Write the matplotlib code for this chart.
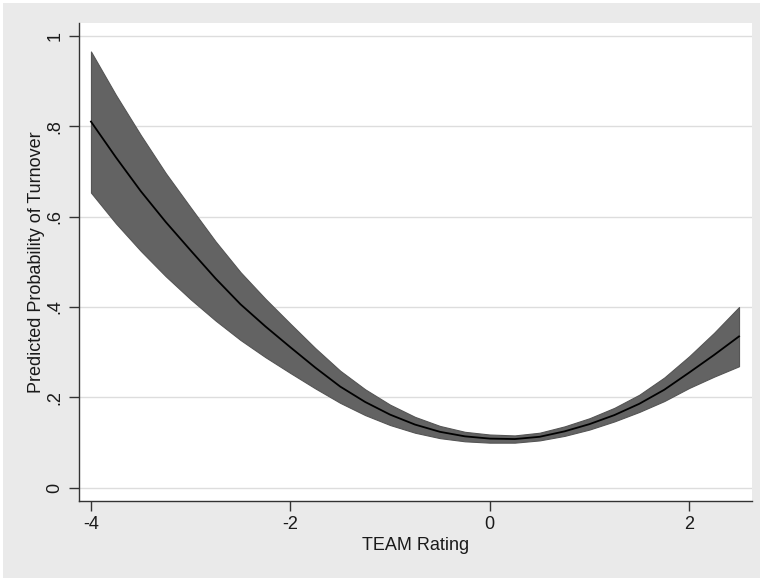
import numpy as np
import matplotlib.pyplot as plt
from matplotlib.patches import Rectangle

plt.rcParams['font.family'] = ['Liberation Sans', 'DejaVu Sans']

# TEAM rating grid, predicted probability and CI bounds
TEAM = np.array([-4, -3.75, -3.5, -3.25, -3, -2.75, -2.5, -2.25, -2, -1.75, -1.5, -1.25, -1,
                 -0.75, -0.5, -0.25, 0, 0.25, 0.5, 0.75, 1, 1.25, 1.5, 1.75, 2, 2.25, 2.5])
PRED = np.array([0.810, 0.731, 0.656, 0.588, 0.525, 0.463, 0.406, 0.357, 0.311, 0.266, 0.224,
                 0.190, 0.162, 0.140, 0.124, 0.114, 0.109, 0.108, 0.113, 0.125, 0.141, 0.161,
                 0.186, 0.217, 0.255, 0.294, 0.335])
UPPER = np.array([0.965, 0.869, 0.780, 0.696, 0.620, 0.545, 0.477, 0.418, 0.363, 0.309, 0.259,
                  0.218, 0.184, 0.157, 0.137, 0.124, 0.118, 0.116, 0.122, 0.136, 0.154, 0.177,
                  0.206, 0.244, 0.291, 0.343, 0.400])
LOWER = np.array([0.653, 0.585, 0.524, 0.468, 0.417, 0.370, 0.327, 0.289, 0.254, 0.220, 0.188,
                  0.161, 0.139, 0.122, 0.110, 0.103, 0.100, 0.100, 0.105, 0.115, 0.129, 0.147,
                  0.168, 0.192, 0.221, 0.246, 0.269])

YTICKS = [0, 0.2, 0.4, 0.6, 0.8, 1]
YTICKLABELS = ['0', '.2', '.4', '.6', '.8', '1']
XTICKS = [-4, -2, 0, 2]

fig = plt.figure(figsize=(7.6, 5.79), dpi=100, facecolor='white')
# Stata-style gray graph region, behind the axes
bg = Rectangle((3 / 760, 1 / 579), 757 / 760, 575 / 579,
               transform=fig.transFigure, facecolor='#eaeaea',
               edgecolor='none', zorder=-10)
fig.add_artist(bg)

ax = fig.add_axes([79 / 760, 78 / 579, 673 / 760, 478 / 579])
ax.set_zorder(1)
ax.set_facecolor('white')

ax.fill_between(TEAM, LOWER, UPPER, facecolor='#636363', edgecolor='#555555',
                linewidth=0.8, zorder=3)
ax.plot(TEAM, PRED, color='black', linewidth=1.3, zorder=4)

ax.set_xlim(-4.12, 2.63)
ax.set_ylim(-0.029, 1.028)

ax.set_yticks(YTICKS)
ax.set_yticklabels(YTICKLABELS, rotation=90, va='center')
ax.set_xticks(XTICKS)
ax.set_xticklabels([str(t) for t in XTICKS])

ax.grid(axis='y', color='#dddddd', linewidth=1.0, zorder=0)
ax.set_axisbelow(True)

for side in ['top', 'right']:
    ax.spines[side].set_visible(False)
for side in ['left', 'bottom']:
    ax.spines[side].set_color('#333333')
    ax.spines[side].set_linewidth(1.0)

ax.tick_params(axis='both', direction='out', length=7, width=1.0, color='#333333',
               labelsize=13, labelcolor='#1a1a1a')
ax.tick_params(axis='y', pad=4)

ax.set_xlabel('TEAM Rating', fontsize=13, color='#1a1a1a', labelpad=3)
ax.set_ylabel('Predicted Probability of Turnover', fontsize=13, color='#1a1a1a', labelpad=1)

fig.savefig('out.png', dpi=100, facecolor=fig.get_facecolor())
